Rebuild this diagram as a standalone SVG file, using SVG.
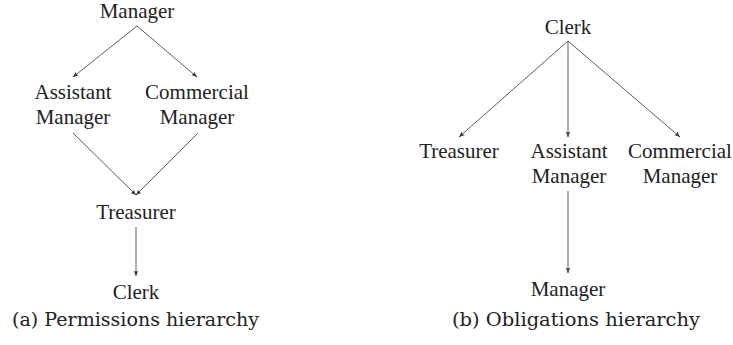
<svg xmlns="http://www.w3.org/2000/svg" width="733" height="345" viewBox="0 0 733 345">
<style>
.n{font-family:"Liberation Serif","Times New Roman",serif;font-size:21px;fill:#222;text-anchor:middle}
.cap{font-family:"DejaVu Serif",serif;font-size:19px;fill:#222;text-anchor:middle}
.e{stroke:#333;stroke-width:0.8;fill:none;marker-end:url(#ah)}
</style>
<defs>
<marker id="ah" viewBox="0 0 10 10" refX="9" refY="5" markerWidth="6" markerHeight="6" markerUnits="userSpaceOnUse" orient="auto">
<path d="M0,1 Q5,4 10,5 Q5,6 0,9 Q3,5 0,1 Z" fill="#333"/>
</marker>
</defs>
<rect width="733" height="345" fill="#fff"/>
<g id="connectors">
<line class="e" x1="137" y1="26" x2="73" y2="77"/>
<line class="e" x1="137" y1="26" x2="197" y2="77"/>
<line class="e" x1="73" y1="133" x2="136" y2="195"/>
<line class="e" x1="198" y1="133" x2="136" y2="195"/>
<line class="e" x1="136" y1="227" x2="136" y2="276"/>
<line class="e" x1="568" y1="41" x2="459" y2="137"/>
<line class="e" x1="568" y1="41" x2="568" y2="137"/>
<line class="e" x1="568" y1="41" x2="680" y2="137"/>
<line class="e" x1="568" y1="191" x2="568" y2="273"/>
</g>
<g id="a-manager"><text class="n" x="137" y="18">Manager</text></g>
<g id="a-assistant"><text class="n" x="73" y="99">Assistant</text><text class="n" x="73" y="124">Manager</text></g>
<g id="a-commercial"><text class="n" x="197" y="99">Commercial</text><text class="n" x="197" y="124">Manager</text></g>
<g id="a-treasurer"><text class="n" x="136" y="219">Treasurer</text></g>
<g id="a-clerk"><text class="n" x="136" y="299">Clerk</text></g>
<g id="caption-a"><text class="cap" x="135.5" y="326" textLength="247" lengthAdjust="spacingAndGlyphs">(a) Permissions hierarchy</text></g>
<g id="b-clerk"><text class="n" x="568" y="34">Clerk</text></g>
<g id="b-treasurer"><text class="n" x="459" y="158">Treasurer</text></g>
<g id="b-assistant"><text class="n" x="569" y="158">Assistant</text><text class="n" x="569" y="183">Manager</text></g>
<g id="b-commercial"><text class="n" x="680" y="158">Commercial</text><text class="n" x="680" y="183">Manager</text></g>
<g id="b-manager"><text class="n" x="568" y="296">Manager</text></g>
<g id="caption-b"><text class="cap" x="576" y="326" textLength="248" lengthAdjust="spacingAndGlyphs">(b) Obligations hierarchy</text></g>
</svg>
